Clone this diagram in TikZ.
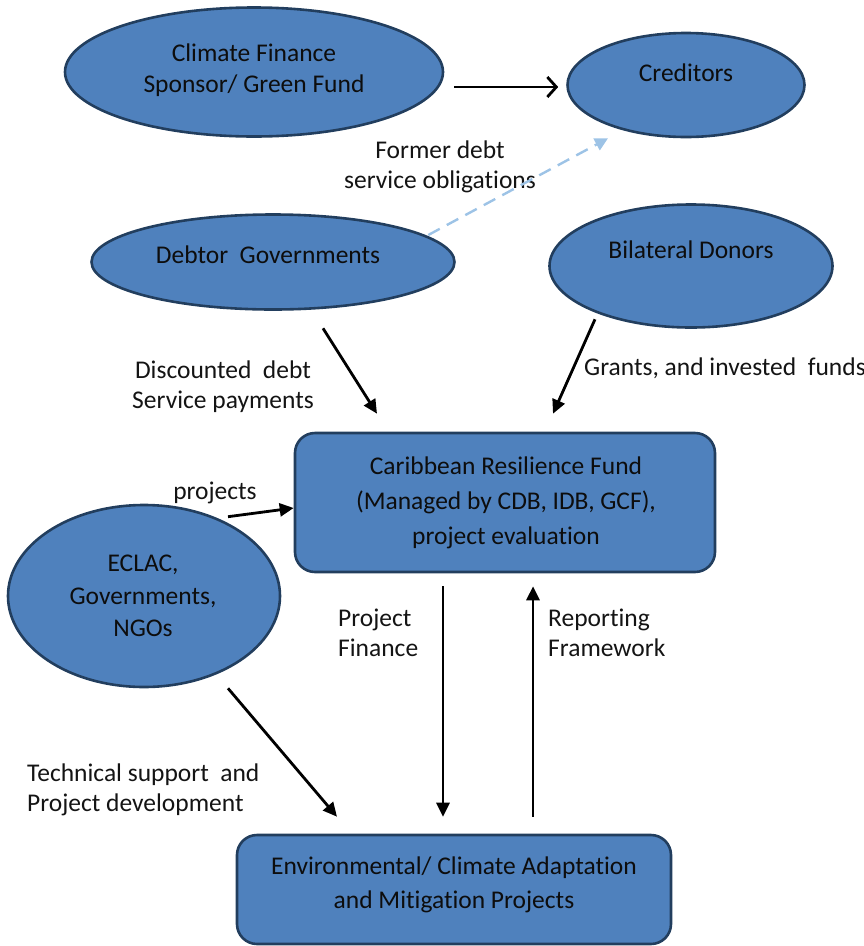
\documentclass[tikz,border=0pt]{standalone}
\usepackage{fontspec}
\setmainfont[RawFeature={-liga}]{Carlito}
\usetikzlibrary{arrows.meta,shapes.geometric,positioning}
\definecolor{blobfill}{HTML}{4F81BD}
\definecolor{blobline}{HTML}{223E5E}
\definecolor{dashblue}{HTML}{9DC3E6}
\tikzset{
    blob/.style =   {ellipse,
                    fill=blobfill,
                    draw=blobline,
                    line width=2.6pt,
                    inner sep=0pt},
    fund/.style =   {rectangle,
                    rounded corners=20pt,
                    fill=blobfill,
                    draw=blobline,
                    line width=2.6pt,
                    inner sep=0pt},
    txt/.style =    {text=black!95,
                    inner sep=0pt,
                    align=center,
                    font=\fontsize{25.5}{31}\selectfont},
    lbl/.style =    {text=black!92,
                    inner sep=0pt,
                    font=\fontsize{25.5}{30}\selectfont},
    flow/.style =   {draw=black,
                    line width=2.8pt,
                    -{Triangle[length=14pt,width=13pt]}},
    vflow/.style =  {draw=black,
                    line width=2.8pt,
                    -{Straight Barb[length=9pt,width=20pt,line width=2.8pt]}},
    oldflow/.style ={draw=dashblue,
                    line width=2.4pt,
                    dash pattern=on 13pt off 8pt,
                    -{Triangle[length=13pt,width=13pt]}}
}
\begin{document}
\begin{tikzpicture}[x=1pt,y=-1pt]
            \useasboundingbox (0,0) rectangle (864,946);
            \node[blob,minimum width=378pt,minimum height=129pt] (sponsor) at (254,72)    {};
            \node[blob,minimum width=237pt,minimum height=104pt] (creditors) at (686,85) {};
            \node[blob,minimum width=363pt,minimum height=95pt]  (debtor) at (273,262)   {};
            \node[blob,minimum width=283pt,minimum height=123pt] (donors) at (691,266)   {};
            \node[blob,minimum width=272pt,minimum height=182pt] (eclac) at (144,596)    {};
            \node[fund,minimum width=420pt,minimum height=139pt] (crf) at (505,502.5)    {};
            \node[fund,minimum width=434pt,minimum height=109pt] (env) at (454,889.5)    {};
            \node[txt] (sponsorT) at (254,70)       {Climate Finance\\Sponsor/ Green Fund};
            \node[txt] (creditorsT) at (686,73)     {Creditors};
            \node[txt] (debtorT) at (268,255)       {Debtor\ \ Governments};
            \node[txt] (donorsT) at (691,250)       {Bilateral Donors};
            \node[txt,font=\fontsize{25.5}{32.5}\selectfont] (eclacT) at (143,596) {ECLAC,\\Governments,\\NGOs};
            \node[txt,font=\fontsize{25.5}{35}\selectfont] (crfT) at (506,503) {Caribbean Resilience Fund\\(Managed by CDB, IDB, GCF),\\project evaluation};
            \node[txt,font=\fontsize{25.5}{34}\selectfont] (envT) at (454,885) {Environmental/ Climate Adaptation\\and Mitigation Projects};
            \node[lbl,align=center] (formerL) at (440,167)   {Former debt\\service obligations};
            \node[lbl,align=center] (discL) at (223,387)     {Discounted\ \ debt\\Service payments};
            \node[lbl] (grantsL) at (725,368)                {Grants, and invested\ \ funds};
            \node[lbl] (projectsL) at (215,493)              {projects};
            \node[lbl,align=left,anchor=west] (pfinL) at (338,633)   {Project\\Finance};
            \node[lbl,align=left,anchor=west] (reportL) at (548,633) {Reporting\\Framework};
            \node[lbl,align=left,anchor=west] (techL) at (27,790)    {Technical support\ \ and\\Project development};
            \draw[vflow]   ([xshift=10pt,yshift=-15pt]sponsor.east) -- ([xshift=-8pt,yshift=-2pt]creditors.west);
            \draw[oldflow] ([xshift=-27.5pt,yshift=27pt]debtor.east) -- ([xshift=-78pt]creditors.south);
            \draw[flow]    ([xshift=50pt,yshift=-17.5pt]debtor.south) -- ([xshift=-128pt,yshift=18pt]crf.north);
            \draw[flow]    ([xshift=-96pt,yshift=9.5pt]donors.south) -- ([xshift=48pt,yshift=18pt]crf.north);
            \draw[flow]    ([xshift=84pt,yshift=-13pt]eclac.north) -- ([yshift=-5.5pt]crf.west);
            \draw[flow]    ([xshift=-62pt,yshift=-13pt]crf.south) -- ([xshift=-11pt,yshift=17pt]env.north);
            \draw[flow]    ([xshift=79pt,yshift=17pt]env.north) -- ([xshift=28pt,yshift=-13pt]crf.south);
            \draw[flow]    ([xshift=84pt]eclac.south) -- ([xshift=-117pt,yshift=17pt]env.north);
\end{tikzpicture}
\end{document}
